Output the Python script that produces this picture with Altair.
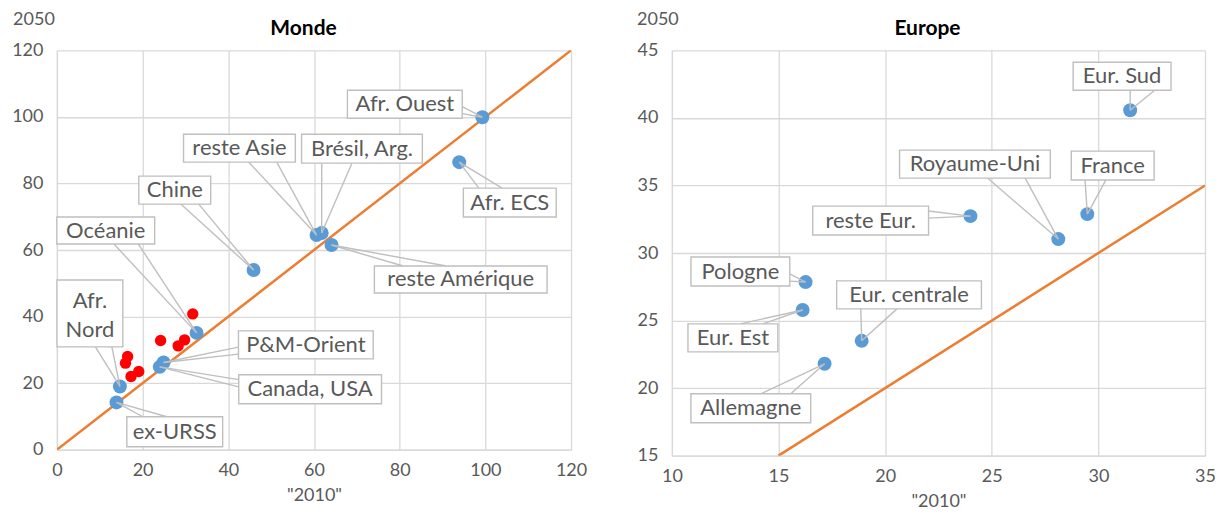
import altair as alt
import pandas as pd

# ---------------- Monde ----------------
monde_names = ["Afr. Ouest", "Brésil, Arg.", "reste Asie", "Chine", "Océanie", "Afr.\nNord",
               "P&M-Orient", "Canada, USA", "ex-URSS", "Afr. ECS", "reste Amérique"]
monde_x2010 = [99.3, 61.8, 60.6, 45.9, 32.6, 14.7, 24.9, 24.0, 13.9, 93.9, 64.1]
monde_y2050 = [99.9, 65.1, 64.5, 54.0, 35.1, 19.0, 26.2, 24.9, 14.2, 86.4, 61.5]
monde_red_x = [31.7, 24.2, 29.8, 28.3, 16.5, 16.0, 19.1, 17.3]
monde_red_y = [40.8, 32.8, 33.0, 31.2, 28.0, 26.0, 23.5, 22.0]
monde_diag = [0, 120]

# callout placement (label centre, data units) and box size (px)
monde_lab_x = [81.2, 71.2, 42.6, 27.5, 11.4, 7.7, 58.1, 59.1, 27.5, 105.7, 94.25]
monde_lab_y = [103.8, 90.45, 90.6, 78.0, 65.85, 40.95, 31.5, 18.15, 5.4, 74.25, 51.15]
monde_box_w = [115, 121, 112, 72, 98, 66, 135, 143, 96, 93, 173]
monde_box_h = [28, 29, 28, 28, 27, 67, 28, 29, 30, 29, 27]

# ---------------- Europe ----------------
europe_names = ["Eur. Sud", "France", "Royaume-Uni", "reste Eur.", "Pologne", "Eur. Est",
                "Eur. centrale", "Allemagne"]
europe_x2010 = [31.49, 29.48, 28.12, 24.0, 16.27, 16.13, 18.9, 17.16]
europe_y2050 = [40.57, 32.88, 31.03, 32.73, 27.85, 25.78, 23.5, 21.8]
europe_diag = [15, 35]

europe_lab_x = [31.11, 30.67, 24.21, 19.32, 13.21, 12.86, 21.12, 13.70]
europe_lab_y = [43.08, 36.47, 36.58, 32.4, 28.63, 23.72, 26.9, 18.51]
europe_box_w = [98, 83, 151, 116, 99, 90, 145, 120]
europe_box_h = [28, 29, 28, 29, 29, 28, 28, 29]

FONT = "Lato"
GREY = "#595959"
BOX = "#BFBFBF"


def panel(title, names, xs, ys, lab_x, lab_y, box_w, box_h, xdom, ydom, xticks, yticks,
          diag, width, height, ytitle_x, title_x, title_y, red_x=None, red_y=None):
    sx = width / (xdom[1] - xdom[0])
    sy = height / (ydom[1] - ydom[0])
    boxes, wedges = [], []
    for i, n in enumerate(names):
        cx, cy = lab_x[i], lab_y[i]
        hw = box_w[i] / 2 / sx
        hh = box_h[i] / 2 / sy
        boxes.append(dict(x1=cx - hw, x2=cx + hw, y1=cy - hh, y2=cy + hh, cx=cx, cy=cy, label=n,
                          multi="\n" in n))
        dxp = (xs[i] - cx) * sx
        dyp = -(ys[i] - cy) * sy
        if abs(dxp) / box_w[i] > abs(dyp) / box_h[i]:
            ex = cx + (hw if dxp > 0 else -hw)
            fr = (7 / 12, 10 / 12) if dyp > 0 else (2 / 12, 5 / 12)
            for f in fr:
                wedges.append(dict(x=ex, y=cy + hh - 2 * hh * f, xe=xs[i], ye=ys[i]))
        else:
            ey = cy - hh if dyp > 0 else cy + hh
            fr = (7 / 12, 10 / 12) if dxp > 0 else (2 / 12, 5 / 12)
            for f in fr:
                wedges.append(dict(x=cx - hw + 2 * hw * f, y=ey, xe=xs[i], ye=ys[i]))
    bdf = pd.DataFrame(boxes)
    wdf = pd.DataFrame(wedges)
    pdf = pd.DataFrame({"x": xs, "y": ys})
    ddf = pd.DataFrame({"x": diag, "y": diag})
    tdf = pd.DataFrame({"t": [title], "a": ["2050"]})

    xsc = alt.Scale(domain=xdom, nice=False, zero=False)
    ysc = alt.Scale(domain=ydom, nice=False, zero=False)
    xax = alt.Axis(values=xticks, title='"2010"', labelPadding=12, titlePadding=7,
                   labelFlush=False)
    yax = alt.Axis(values=yticks, title=None, labelPadding=14)

    def X(f):
        return alt.X(f, type="quantitative", scale=xsc, axis=xax)

    def Y(f):
        return alt.Y(f, type="quantitative", scale=ysc, axis=yax)

    layers = []
    layers.append(alt.Chart(ddf).mark_line(color="#ED7D31", strokeWidth=2.5, clip=True)
                  .encode(x=X("x"), y=Y("y")))
    if red_x is not None:
        rdf = pd.DataFrame({"x": red_x, "y": red_y})
        layers.append(alt.Chart(rdf).mark_circle(size=130, color="#FF0000", opacity=1)
                      .encode(x=X("x"), y=Y("y")))
    layers.append(alt.Chart(pdf).mark_circle(size=195, color="#5B9BD5", opacity=1)
                  .encode(x=X("x"), y=Y("y")))
    layers.append(alt.Chart(wdf).mark_rule(color=BOX, strokeWidth=1.4)
                  .encode(x=X("x"), y=Y("y"), x2="xe", y2="ye"))
    layers.append(alt.Chart(bdf).mark_rect(fill="white", stroke=BOX, strokeWidth=1.4)
                  .encode(x=X("x1"), x2="x2", y=Y("y1"), y2="y2"))
    single = bdf[~bdf["multi"]]
    multi = bdf[bdf["multi"]]
    layers.append(alt.Chart(single).mark_text(font=FONT, fontSize=22, color=GREY,
                                              baseline="middle", align="center")
                  .encode(x=X("cx"), y=Y("cy"), text="label"))
    if len(multi):
        layers.append(alt.Chart(multi).mark_text(font=FONT, fontSize=22, color=GREY,
                                                 lineBreak="\n", lineHeight=29, dy=-12,
                                                 baseline="middle", align="center")
                      .encode(x=X("cx"), y=Y("cy"), text="label"))
    # chart title and y-axis caption
    layers.append(alt.Chart(tdf).mark_text(font=FONT, fontSize=21, fontWeight="bold",
                                           color="black", baseline="middle", align="center")
                  .encode(x=alt.value(title_x), y=alt.value(title_y), text="t"))
    layers.append(alt.Chart(tdf).mark_text(font=FONT, fontSize=18, color=GREY,
                                           baseline="middle", align="center")
                  .encode(x=alt.value(ytitle_x), y=alt.value(-30), text="a"))
    return alt.layer(*layers).properties(width=width, height=height)


left = panel("Monde", monde_names, monde_x2010, monde_y2050, monde_lab_x, monde_lab_y,
             monde_box_w, monde_box_h, [0, 120], [0, 120], list(range(0, 121, 20)),
             list(range(0, 121, 20)), monde_diag, 515, 400, -23, 247, -21,
             monde_red_x, monde_red_y)
right = panel("Europe", europe_names, europe_x2010, europe_y2050, europe_lab_x, europe_lab_y,
              europe_box_w, europe_box_h, [10, 35], [15, 45], list(range(10, 36, 5)),
              list(range(15, 46, 5)), europe_diag, 534, 406, -14, 256, -21)

chart = (alt.hconcat(left, right, spacing=50)
         .properties(padding={"left": 3, "top": 3, "right": 0, "bottom": 0}, background="white")
         .configure_view(stroke=None)
         .configure_axis(grid=True, gridColor="#D9D9D9", gridWidth=1.3, domainColor="#D9D9D9",
                         domainWidth=1.3, ticks=False, labelFont=FONT, labelFontSize=18,
                         labelColor=GREY, titleFont=FONT, titleFontSize=18,
                         titleFontWeight="normal", titleColor=GREY))

chart.save("out.html", embed_options={"renderer": "svg", "actions": False})
